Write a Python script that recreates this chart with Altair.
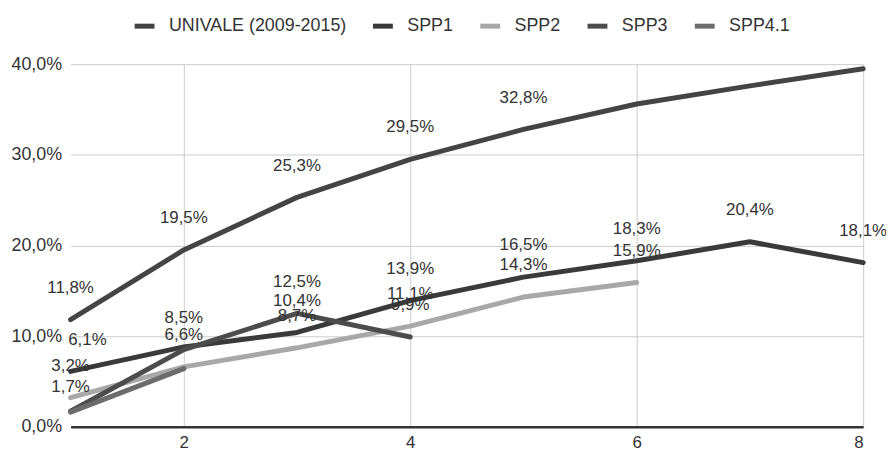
import altair as alt
import pandas as pd

series_names = ["UNIVALE (2009-2015)", "SPP1", "SPP2", "SPP3", "SPP4.1"]
series_colors = ["#444444", "#3a3a3a", "#a8a8a8", "#4c4c4c", "#6c6c6c"]

univale_vals = [11.8, 19.5, 25.3, 29.5, 32.8, 35.6, 37.6, 39.5]
univale_show = [1, 1, 1, 1, 1, 0, 0, 0]
spp1_vals = [6.1, 8.8, 10.4, 13.9, 16.5, 18.3, 20.4, 18.1]
spp1_show = [1, 0, 1, 1, 1, 1, 1, 1]
spp2_vals = [3.2, 6.6, 8.7, 11.1, 14.3, 15.9]
spp2_show = [1, 1, 1, 1, 1, 1]
spp3_vals = [1.7, 8.5, 12.5, 9.9]
spp3_show = [1, 1, 1, 1]
spp41_vals = [1.6, 6.4]
spp41_show = [0, 0]

x_ticks = [2, 4, 6, 8]
y_ticks = [0, 10, 20, 30, 40]

rows = []
for name, vals, show in zip(
    series_names,
    [univale_vals, spp1_vals, spp2_vals, spp3_vals, spp41_vals],
    [univale_show, spp1_show, spp2_show, spp3_show, spp41_show],
):
    for i, (v, s) in enumerate(zip(vals, show)):
        rows.append({"x": i + 1, "value": v, "series": name, "show": s})
df = pd.DataFrame(rows)

FONT = "Liberation Sans"
TXT = "#333333"

color = alt.Color(
    "series:N",
    scale=alt.Scale(domain=series_names, range=series_colors),
    legend=alt.Legend(
        title=None,
        orient="none",
        legendX=62,
        legendY=-51,
        direction="horizontal",
        symbolType="stroke",
        symbolStrokeWidth=5,
        symbolSize=400,
        labelFont=FONT,
        labelFontSize=18,
        labelColor=TXT,
        labelOffset=12,
        labelLimit=0,
        columnPadding=16,
    ),
)

x = alt.X(
    "x:Q",
    scale=alt.Scale(domain=[1, 8], nice=False, zero=False),
    axis=alt.Axis(
        title=None,
        values=x_ticks,
        format="d",
        ticks=False,
        grid=True,
        gridColor="#cccccc",
        gridWidth=1,
        domainColor="#333333",
        domainWidth=2.5,
        labelFont=FONT,
        labelFontSize=17,
        labelColor=TXT,
        labelPadding=8,
    ),
)
y = alt.Y(
    "value:Q",
    scale=alt.Scale(domain=[0, 40], nice=False),
    axis=alt.Axis(
        title=None,
        values=y_ticks,
        ticks=False,
        domain=False,
        grid=True,
        gridColor="#cccccc",
        gridWidth=1,
        labelFont=FONT,
        labelFontSize=18,
        labelColor=TXT,
        labelPadding=9,
        labelExpr="replace(format(datum.value, '.1f'), '.', ',') + '%'",
    ),
)

base = alt.Chart(df)

lines = base.mark_line(strokeWidth=5, strokeCap="round", strokeJoin="round").encode(
    x=x, y=y, color=color, detail="series:N"
)

lbl_expr = "replace(format(datum.value, '.1f'), '.', ',') + '%'"
is_spp1_first = "datum.series == 'SPP1' && datum.x == 1"
is_spp3_first = "datum.series == 'SPP3' && datum.x == 1"


def label_layer(filter_expr, dx=0, dy=-32):
    return (
        base.transform_filter("datum.show == 1")
        .transform_filter(filter_expr)
        .transform_calculate(lbl=lbl_expr)
        .mark_text(font=FONT, fontSize=17, color=TXT, dx=dx, dy=dy, baseline="middle")
        .encode(x="x:Q", y="value:Q", text="lbl:N")
    )


labels_main = label_layer(f"!({is_spp1_first}) && !({is_spp3_first})")
labels_spp1 = label_layer(is_spp1_first, dx=17)
labels_spp3 = label_layer(is_spp3_first, dy=-24)

chart = (
    alt.layer(lines, labels_main, labels_spp1, labels_spp3)
    .properties(
        width=798,
        height=365,
        autosize=alt.AutoSizeParams(type="none"),
        padding={"left": 63, "top": 55, "right": 23, "bottom": 28},
    )
    .configure_view(stroke=None)
)

chart.save("out.html", embed_options={"renderer": "svg", "actions": False})
